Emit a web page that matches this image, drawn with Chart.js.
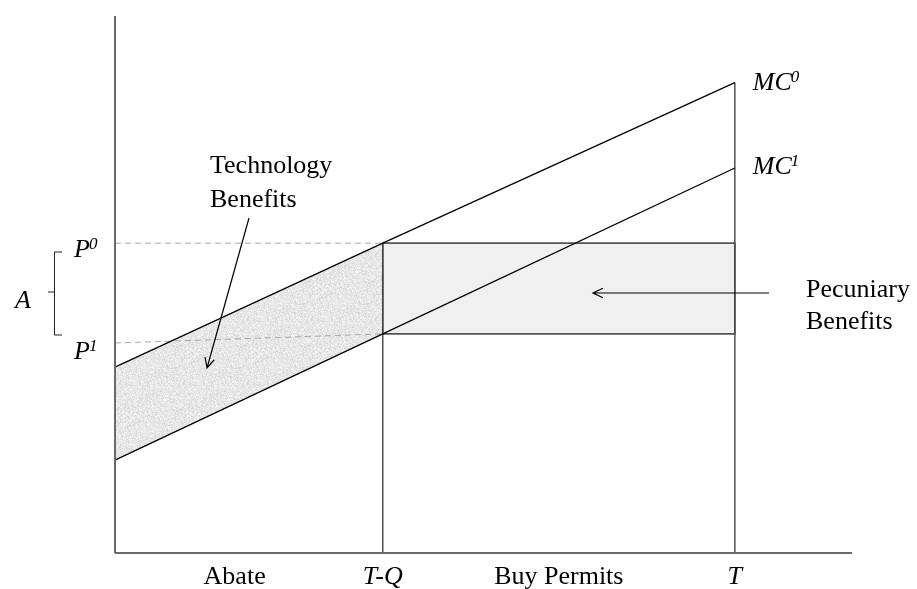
<!DOCTYPE html>
<html>
<head>
<meta charset="utf-8">
<script src="https://cdn.jsdelivr.net/npm/chart.js@4.4.0/dist/chart.umd.min.js"></script>
<style>
  html, body { margin: 0; padding: 0; background: #fff; }
  #wrap { width: 917px; height: 589px; }
</style>
</head>
<body>
<div id="wrap"><canvas id="chart"></canvas></div>
<script>
// quantity axis: origin, T-Q, T  (axis runs a little past T)
const xPoints = [0, 43.2, 100];
const xMax = 118.9;
// marginal cost curves at those quantities
const mc0 = [34.6, 57.7, 87.6];
const mc1 = [17.3, 40.8, 71.7];
// permit prices
const p0 = 57.7;
const p1Guide = [39.1, 40.8]; // the P1 guide is slightly tilted in the original
// labels under the axis
const xTickPos = [19.3, 43.2, 71.6, 100];
const xTickLabels = ['Abate', 'T-Q', 'Buy Permits', 'T'];
const xTickItalic = [false, true, false, true];

const tq = xPoints[1], T = xPoints[2];
const pts = (xs, ys) => xs.map((x, i) => ({ x: x, y: ys[i] }));

const canvas = document.getElementById('chart');
const ctx0 = canvas.getContext('2d');

// grainy grey fill like the original "technology" band
function speckle() {
  const c = document.createElement('canvas');
  c.width = c.height = 64;
  const g = c.getContext('2d');
  g.fillStyle = '#e7e7e7';
  g.fillRect(0, 0, 64, 64);
  for (let i = 0; i < 64; i++) {
    for (let j = 0; j < 64; j++) {
      let h = Math.imul(i, 374761393) + Math.imul(j, 668265263);
      h = Math.imul(h ^ (h >>> 13), 1274126177);
      h = (h ^ (h >>> 16)) >>> 0;
      const v = h % 20;
      if (v < 4) { g.fillStyle = '#d9d9d9'; g.fillRect(i, j, 1, 1); }
      else if (v > 15) { g.fillStyle = '#f3f3f3'; g.fillRect(i, j, 1, 1); }
    }
  }
  return ctx0.createPattern(c, 'repeat');
}

const base = { showLine: true, pointRadius: 0, tension: 0, clip: false, fill: false };
const SERIF = "'Liberation Serif', 'Times New Roman', serif";

const datasets = [
  // technology benefits band
  Object.assign({}, base, { data: pts([0, tq], [mc0[0], mc0[1]]), fill: '+1', backgroundColor: speckle(), borderWidth: 0, order: 20 }),
  Object.assign({}, base, { data: pts([0, tq], [mc1[0], mc1[1]]), borderWidth: 0, order: 21 }),
  // pecuniary benefits box
  Object.assign({}, base, {
    data: [{ x: tq, y: mc1[1] }, { x: tq, y: p0 }, { x: T, y: p0 }, { x: T, y: mc1[1] }, { x: tq, y: mc1[1] }],
    fill: 'shape', backgroundColor: '#f0f0f0', borderColor: '#555', borderWidth: 1.6, order: 15
  }),
  // dashed price guides
  Object.assign({}, base, { data: pts([0, tq], [p0, p0]), borderColor: '#a8a8a8', borderWidth: 1, borderDash: [6, 4], order: 10 }),
  Object.assign({}, base, { data: pts([0, tq], p1Guide), borderColor: '#a8a8a8', borderWidth: 1, borderDash: [6, 4], order: 10 }),
  // verticals at T-Q and T
  Object.assign({}, base, { data: pts([tq, tq], [0, p0]), borderColor: '#444', borderWidth: 1.4, order: 5 }),
  Object.assign({}, base, { data: pts([T, T], [0, mc0[2]]), borderColor: '#444', borderWidth: 1.4, order: 5 }),
  // MC curves
  Object.assign({}, base, { data: pts(xPoints, mc0), borderColor: '#000', borderWidth: 1.3, order: 2 }),
  Object.assign({}, base, { data: pts(xPoints, mc1), borderColor: '#000', borderWidth: 1.3, order: 2 }),
  // axes
  Object.assign({}, base, { data: pts([0, 0], [0, 100]), borderColor: '#6a6a6a', borderWidth: 2, order: 1 }),
  Object.assign({}, base, { data: pts([0, xMax], [0, 0]), borderColor: '#6a6a6a', borderWidth: 2, order: 1 })
];

function arrow(g, x1, y1, x2, y2) {
  const a = Math.atan2(y2 - y1, x2 - x1), L = 11, s = 0.45;
  g.beginPath();
  g.moveTo(x1, y1); g.lineTo(x2, y2);
  g.moveTo(x2 - L * Math.cos(a - s), y2 - L * Math.sin(a - s));
  g.lineTo(x2, y2);
  g.lineTo(x2 - L * Math.cos(a + s), y2 - L * Math.sin(a + s));
  g.stroke();
}

function supText(g, main, sup, x, y) {
  g.font = 'italic 26px ' + SERIF;
  g.fillText(main, x, y);
  const w = g.measureText(main).width;
  g.font = 'italic 17px ' + SERIF;
  g.fillText(sup, x + w - 1, y - 8);
}

const labels = {
  id: 'labels',
  afterDraw(chart) {
    const g = chart.ctx, xs = chart.scales.x, ys = chart.scales.y;
    const px = v => xs.getPixelForValue(v), py = v => ys.getPixelForValue(v);
    g.save();
    g.fillStyle = '#000';
    g.strokeStyle = '#000';
    g.lineWidth = 1.2;
    g.textBaseline = 'alphabetic';

    // x labels
    g.textAlign = 'center';
    xTickLabels.forEach((t, i) => {
      g.font = (xTickItalic[i] ? 'italic ' : '') + '26px ' + SERIF;
      g.fillText(t, px(xTickPos[i]), py(0) + 31);
    });

    g.textAlign = 'left';
    // curve labels
    supText(g, 'MC', '0', px(T) + 18, py(mc0[2]) + 7);
    supText(g, 'MC', '1', px(T) + 18, py(mc1[2]) + 6);
    // price labels
    supText(g, 'P', '0', 74, py(p0) + 14);
    supText(g, 'P', '1', 74, py(p1Guide[0]) + 16);
    g.font = 'italic 26px ' + SERIF;
    g.fillText('A', 15, 308);

    // brace for A
    g.lineWidth = 1;
    g.strokeStyle = '#222';
    g.beginPath();
    g.moveTo(62, 252); g.lineTo(54.5, 252); g.lineTo(54.5, 335); g.lineTo(62, 335);
    g.moveTo(54.5, 292); g.lineTo(48, 292);
    g.stroke();

    // annotations
    g.font = '26px ' + SERIF;
    g.fillText('Technology', 210, 173);
    g.fillText('Benefits', 210, 207);
    g.fillText('Pecuniary', 806, 297);
    g.fillText('Benefits', 806, 329);

    g.strokeStyle = '#000';
    g.lineWidth = 1.2;
    arrow(g, 249, 218, 207, 368);
    arrow(g, 769, 293, 593, 293);
    g.restore();
  }
};

new Chart(canvas, {
  type: 'scatter',
  data: { datasets: datasets },
  options: {
    responsive: true,
    maintainAspectRatio: false,
    animation: false,
    events: [],
    layout: { padding: { left: 115, top: 16, right: 65, bottom: 36 } },
    scales: {
      x: { type: 'linear', min: 0, max: xMax, display: false },
      y: { type: 'linear', min: 0, max: 100, display: false }
    },
    plugins: { legend: { display: false }, tooltip: { enabled: false } }
  },
  plugins: [labels]
});
</script>
</body>
</html>
